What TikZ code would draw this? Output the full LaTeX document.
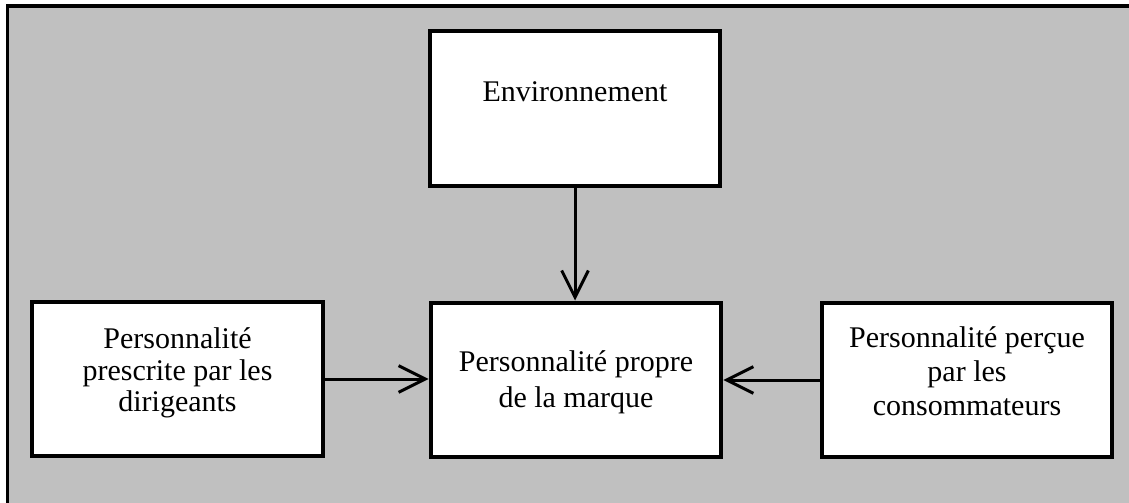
\documentclass[tikz,border=0pt]{standalone}
\usepackage{fontspec}
\setmainfont{Liberation Serif}
\usetikzlibrary{arrows.meta}
\definecolor{fondgris}{RGB}{192,192,192}
\tikzset{
    boite/.style = {draw = black, fill = white, line width = 3pt, rectangle,
        minimum width = 218pt, minimum height = 115.5pt, inner sep = 0pt},
    texte/.style = {font = {\fontsize{22.5}{25.5}\selectfont}, black, align = center, inner sep = 0pt},
    fleche/.style = {-{Straight Barb[length = 20pt, width = 20pt]}, line width = 2.25pt}
}

\begin{document}
\begin{tikzpicture}[x = 0.75pt, y = -0.75pt]
        \useasboundingbox (0, 0) rectangle (1129, 503);
        \fill[fondgris] (6, 5) rectangle (1129, 503);
        \draw[line width = 2.5pt] (7.5, 503) -- (7.5, 6) -- (1129, 6);

        \node[boite] (env) at (575, 108.5) {};
        \node[texte] (envtxt) at (575, 92) {Environnement};


        \node[boite] (dirig) at (177.5, 379) {};
        \node[texte, font = {\fontsize{22.5}{23.5}\selectfont}] (dirigtxt) at (177.5, 373) {Personnalité\\prescrite par les\\dirigeants};


        \node[boite] (marque) at (576, 379.5) {};
        \node[texte, font = {\fontsize{22.5}{27}\selectfont}] (marquetxt) at (576, 382) {Personnalité propre\\de la marque};


        \node[boite] (conso) at (967, 380) {};
        \node[texte] (consotxt) at (967, 371) {Personnalité perçue\\par les\\consommateurs};

        \draw[fleche] (env.south) -- (env.south |- marque.north);
        \draw[fleche] (dirig.east) -- (dirig.east -| marque.west);
        \draw[fleche] (conso.west) -- (conso.west -| marque.east);
    \end{tikzpicture}
\end{document}
